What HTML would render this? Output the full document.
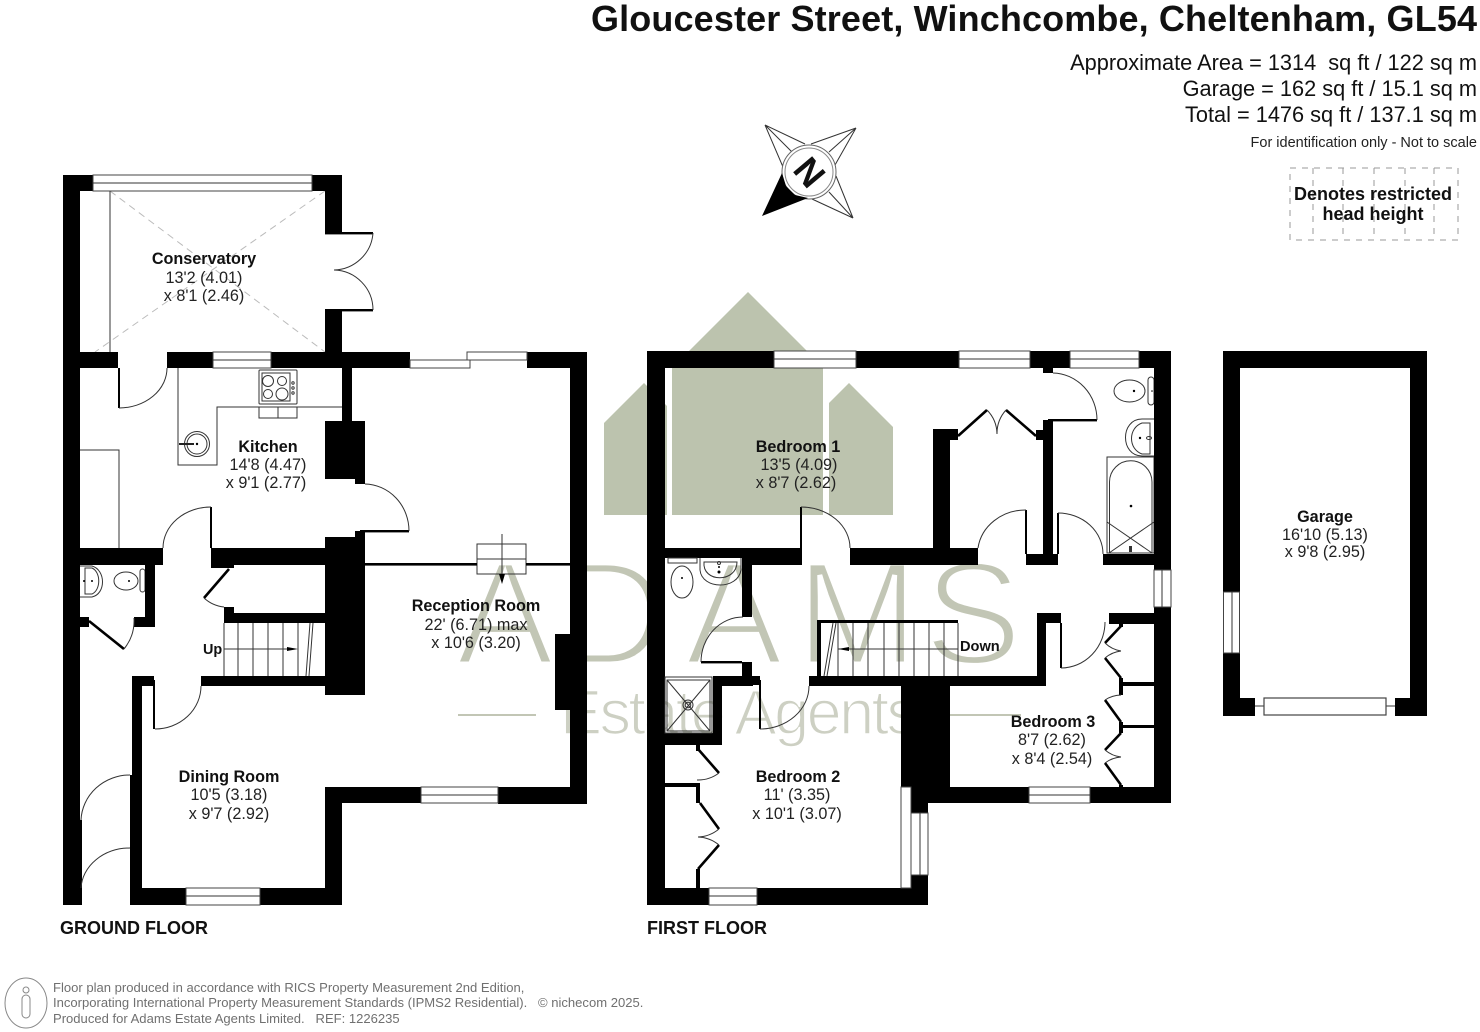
<!DOCTYPE html>
<html lang="en"><head><meta charset="utf-8"><title>Floor plan</title>
<style>
html,body{margin:0;padding:0;background:#fff;width:1480px;height:1032px;overflow:hidden}
svg{display:block;font-family:"Liberation Sans",sans-serif}
.n{font-weight:700;font-size:16.2px;text-anchor:middle;fill:#111}
.s{font-size:16.2px;text-anchor:middle;fill:#222}
.a{fill:none;stroke:#333;stroke-width:1}
.d{fill:none;stroke:#000;stroke-width:2.6}
.w{fill:#fff;stroke:#444;stroke-width:1}
.l{stroke:#333;stroke-width:1;fill:none}
.f{fill:none;stroke:#444;stroke-width:1}
.hd{font-size:21.75px;text-anchor:end;fill:#111}
.ft{font-size:13.05px;fill:#707070}
</style></head><body>
<svg width="1480" height="1032" viewBox="0 0 1480 1032" xmlns="http://www.w3.org/2000/svg">
<rect width="1480" height="1032" fill="#fff"/>

<!-- logo -->
<g fill="#bcc3ae">
<polygon points="748,292 823,367 823,515 672,515 672,368"/>
<polygon points="849,383 893,427 893,515 829,515 829,403"/>
<polygon points="644,383 667,406 667,515 604,515 604,423"/>
</g>
<text x="456 560 685 796 924" y="664" font-size="147" fill="#c2c6b5" stroke="#fff" stroke-width="5">ADAMS</text>
<text x="560" y="734" font-size="63" fill="#cdd0c3" stroke="#fff" stroke-width="1.6" textLength="358" lengthAdjust="spacing">Estate Agents</text>
<rect x="458" y="714" width="78" height="2" fill="#c2c6b5"/>
<rect x="945" y="714" width="76" height="2" fill="#c2c6b5"/>

<!-- titles -->
<text x="591" y="31" font-size="36" font-weight="700" fill="#111" textLength="886" lengthAdjust="spacing">Gloucester Street, Winchcombe, Cheltenham, GL54</text>
<text class="hd" x="1477" y="70">Approximate Area = 1314&#160; sq ft / 122 sq m</text>
<text class="hd" x="1477" y="96">Garage = 162 sq ft / 15.1 sq m</text>
<text class="hd" x="1477" y="122">Total = 1476 sq ft / 137.1 sq m</text>
<text x="1477" y="147" font-size="14.5" text-anchor="end" fill="#222">For identification only - Not to scale</text>

<!-- restricted head height -->
<g fill="none" stroke="#999" stroke-width="1" stroke-dasharray="6 6">
<rect x="1290" y="168" width="168" height="72"/>
<path d="M1313 168V240M1343 168V240M1374 168V240M1405 168V240M1434 168V240"/>
</g>
<text x="1373" y="200" font-size="18" font-weight="700" text-anchor="middle" fill="#111">Denotes restricted</text>
<text x="1373" y="220" font-size="18" font-weight="700" text-anchor="middle" fill="#111">head height</text>

<!-- compass -->
<g fill="none" stroke="#333" stroke-width="1">
<path d="M765,125 L783,167 M765,125 L805,144 M765,125 L792,152"/>
<path d="M856,128 L811,144 M856,128 L835,165 M856,128 L829,152"/>
<path d="M853,218 L836,176 M853,218 L812,199 M853,218 L829,192"/>
<circle cx="809" cy="172" r="27" fill="#fff" stroke="#666"/>
<circle cx="809" cy="172" r="24" stroke="#888"/>
</g>
<polygon points="762,216 782,173 786,186 795,195 808,198" fill="#000"/>
<text x="0" y="0" font-size="36" font-weight="700" text-anchor="middle" fill="#111" transform="translate(810,172) rotate(50) translate(0,13)">N</text>

<!-- fittings and dashed lines, ground floor -->
<path d="M110,191 L325,352 M325,191 L95,352" stroke="#bbb" stroke-width="1" stroke-dasharray="7 5" fill="none"/>
<path class="l" d="M110,191V352M178,368V465H217V407H342M80,450H119V548"/>
<rect class="l" x="259" y="370" width="38" height="34" rx="1" stroke-width="1.6"/>
<rect class="l" x="262" y="373" width="28" height="28"/>
<circle class="l" cx="268" cy="381" r="5.5"/><circle class="l" cx="282" cy="381" r="4.5"/>
<circle class="l" cx="268" cy="394" r="4.5"/><circle class="l" cx="282" cy="394" r="6"/>
<circle cx="293" cy="383" r="1.2" class="l"/><circle cx="293" cy="388" r="1.2" class="l"/><circle cx="293" cy="393" r="1.2" class="l"/>
<path class="l" d="M259,407V418H297V407M278,407V418"/>
<circle class="l" cx="197" cy="444" r="12.5"/><circle class="l" cx="197" cy="444" r="10"/>
<path d="M179,444H194" stroke="#222" stroke-width="2"/><circle cx="197" cy="444" r="1.2" fill="#000"/>
<!-- cloakroom -->
<path class="l" d="M80,566H92C106,570 106,594 92,597H80"/><path class="l" d="M85,568V594H92C101,590 101,572 92,568Z"/>
<ellipse class="l" cx="126" cy="581" rx="12" ry="9"/><rect class="l" x="140" y="569" width="5" height="23" rx="2.5"/>
<circle cx="84" cy="581" r="1" fill="#000"/><circle cx="92" cy="581" r="1" fill="#000"/><circle cx="129" cy="581" r="1" fill="#000"/>
<!-- stairs -->
<path class="l" d="M224,623V676M238,623V676M253,623V676M268,623V676M283,623V676M298,623V676M310,623L306,676M313,623L309,676M224,649H290"/>
<polygon points="287,647 298,649 287,651" fill="#000"/>
<!-- fireplace box -->
<rect class="l" x="477" y="544" width="49" height="30"/>
<path class="l" d="M477,559H526M502,534V582"/>
<polygon points="499,574 505,574 502,584" fill="#000"/>

<!-- ground walls -->
<g fill="#000">
<rect x="63" y="175" width="17" height="645"/><rect x="63" y="820" width="19" height="85"/>
<rect x="63" y="175" width="30" height="16"/><rect x="312" y="175" width="30" height="16"/>
<rect x="325" y="175" width="17" height="57"/><rect x="325" y="310" width="17" height="42"/>
<rect x="63" y="352" width="55" height="16"/><rect x="167" y="352" width="46" height="16"/>
<rect x="271" y="352" width="139" height="16"/><rect x="527" y="352" width="60" height="16"/>
<rect x="570" y="352" width="17" height="452"/>
<rect x="342" y="368" width="10" height="53"/><rect x="325" y="421" width="40" height="58"/><rect x="355" y="479" width="10" height="5"/>
<rect x="325" y="537" width="40" height="158"/><rect x="355" y="531" width="10" height="6"/>
<rect x="63" y="548" width="100" height="17"/><rect x="211" y="548" width="114" height="17"/>
<rect x="145" y="565" width="10" height="62"/><rect x="134" y="617" width="21" height="10"/><rect x="80" y="617" width="9" height="10"/>
<rect x="211" y="565" width="23" height="3"/>
<rect x="224" y="607" width="10" height="6"/><rect x="224" y="613" width="101" height="10"/>
<rect x="201" y="676" width="124" height="10"/><rect x="132" y="676" width="22" height="10"/><rect x="132" y="676" width="10" height="229"/>
<rect x="153" y="680" width="2" height="49"/><rect x="210" y="507" width="2" height="41"/><rect x="118" y="368" width="2" height="40"/>
<rect x="130" y="775" width="2.5" height="113"/>
<rect x="130" y="888" width="56" height="17"/><rect x="260" y="888" width="82" height="17"/>
<rect x="325" y="787" width="17" height="118"/><rect x="325" y="787" width="96" height="16"/><rect x="498" y="787" width="89" height="17"/>
<rect x="555" y="634" width="15" height="76"/>
<rect x="365" y="563" width="112" height="2.6"/><rect x="526" y="563" width="44" height="2.6"/>
<rect x="325" y="232" width="48" height="2.4"/><rect x="325" y="309" width="48" height="2.4"/>
<rect x="360" y="530" width="49" height="2.4"/>
</g>
<path class="d" d="M89,621L124,649M229,569L204,598"/>
<path class="a" d="M373,233A40,40 0 0 1 334,270M373,310A40,40 0 0 0 334,270M119,408A48,40 0 0 0 167,368M211,507A48,41 0 0 0 163,548M365,484A45,47 0 0 1 409,531M124,649A45,45 0 0 0 134,618M204,598A35,35 0 0 0 224,607M155,729A46,43 0 0 0 201,686M130,775A49,47 0 0 0 81,820M130,848A49,42 0 0 0 81,888"/>

<!-- ground windows -->
<g class="w">
<rect x="93" y="175" width="219" height="16"/><rect x="213" y="352" width="58" height="16"/>
<rect x="410" y="360" width="60" height="8"/><rect x="467" y="352" width="60" height="8"/>
<rect x="186" y="888" width="74" height="17"/><rect x="421" y="787" width="77" height="16"/>
</g>
<path class="l" d="M93,183H312M213,360H271M186,896H260M421,795H498"/>

<!-- first floor fittings -->
<path class="l" d="M838,623V676M853,623V676M868,623V676M884,623V676M899,623V676M914,623V676M929,623V676M944,623V676M958,623V676M833,623L824,676M836,623L827,676M838,649H958"/>
<polygon points="838,649 849,647 849,651" fill="#000"/>
<rect x="1107" y="457" width="47" height="96" fill="#fff" class="l"/>
<path class="l" d="M1109.5,553V482A20,20 0 0 1 1152,482V553Z"/>
<path class="l" d="M1107,522L1152,553M1154,522L1109,553"/>
<rect x="1129" y="546" width="3" height="6" fill="#333"/>
<circle cx="1131" cy="506" r="1.3" fill="#000"/>
<ellipse class="l" cx="1129.5" cy="391" rx="15.5" ry="11"/><rect class="l" x="1148" y="377" width="6" height="28" rx="3"/>
<circle cx="1134" cy="391" r="1.2" fill="#000"/><circle cx="1152" cy="391" r="0.8" fill="#000"/>
<path class="l" d="M1154,419H1142C1120,419 1120,456 1142,456H1154"/><path class="l" d="M1150,423H1142C1128,428 1128,449 1142,454H1150Z"/>
<circle cx="1140" cy="438" r="1.2" fill="#000"/><ellipse class="l" cx="1149" cy="438" rx="2.5" ry="1.5"/>

<!-- first floor walls -->
<g fill="#000">
<rect x="647" y="351" width="18" height="554"/>
<rect x="647" y="351" width="127" height="17"/><rect x="856" y="351" width="103" height="17"/><rect x="1030" y="351" width="40" height="17"/><rect x="1139" y="351" width="32" height="17"/>
<rect x="1154" y="351" width="17" height="219"/><rect x="1154" y="607" width="17" height="196"/>
<rect x="1043" y="368" width="10" height="5"/><rect x="1048" y="419" width="49" height="2.4"/>
<rect x="1043" y="420" width="10" height="135"/>
<rect x="933" y="429" width="17" height="136"/><rect x="950" y="429" width="8" height="11"/><rect x="1036" y="430" width="8" height="10"/>
<rect x="665" y="548" width="87" height="10"/><rect x="752" y="548" width="50" height="17"/><rect x="850" y="548" width="128" height="17"/>
<rect x="1026" y="554" width="32" height="11"/><rect x="1103" y="554" width="68" height="11"/>
<rect x="800" y="507" width="2" height="41"/><rect x="1025" y="510" width="2" height="44"/><rect x="1057" y="513" width="2" height="41"/>
<rect x="742" y="558" width="10" height="59"/>
<rect x="701" y="661" width="41" height="2.4"/><rect x="742" y="662" width="10" height="14"/><rect x="752" y="676" width="8" height="9"/>
<rect x="713" y="676" width="40" height="10"/><rect x="713" y="676" width="9" height="69"/><rect x="665" y="733" width="57" height="12"/>
<rect x="759" y="680" width="2" height="49"/>
<rect x="809" y="676" width="228" height="10"/>
<rect x="817" y="620" width="141" height="3"/><rect x="817" y="620" width="4" height="56"/>
<rect x="1037" y="613" width="9" height="73"/><rect x="1037" y="613" width="24" height="10"/><rect x="1060" y="623" width="2" height="45"/>
<rect x="1109" y="613" width="45" height="11"/>
<rect x="901" y="686" width="49" height="101"/><rect x="911" y="787" width="17" height="26"/><rect x="911" y="875" width="17" height="30"/>
<rect x="928" y="787" width="101" height="16"/><rect x="1090" y="787" width="81" height="16"/>
<rect x="665" y="888" width="44" height="17"/><rect x="757" y="888" width="171" height="17"/>
<rect x="665" y="783" width="35" height="4"/><rect x="696" y="745" width="4" height="6"/><rect x="696" y="783" width="4" height="20"/><rect x="696" y="869" width="4" height="19"/>
<rect x="1121" y="682" width="33" height="4"/><rect x="1119" y="678" width="4" height="17"/><rect x="1121" y="725" width="33" height="3"/><rect x="1119" y="722" width="4" height="11"/>
<rect x="1119" y="624" width="4" height="3"/><rect x="1119" y="785" width="4" height="3"/>
</g>
<path class="d" d="M958,436L987,410M1006,410L1036,436M698,749L719,773M700,803L719,829M719,845L698,869M1121,626L1105,643M1105,658L1121,678M1105,700L1121,722M1121,733L1105,750M1105,763L1121,785"/>
<path class="a" d="M1053,373A45,47 0 0 1 1097,420M987,410A35,35 0 0 1 997,434M1006,410A35,35 0 0 0 997,434M801,507A49,41 0 0 1 850,548M1026,510A48,44 0 0 0 978,548M1058,513A45,41 0 0 1 1103,554M743,617A42,45 0 0 0 701,662M760,729A49,43 0 0 0 809,686M1061,668A44,46 0 0 0 1105,622M719,773A35,35 0 0 1 697,780M719,829A35,35 0 0 1 698,837M719,845A35,35 0 0 0 698,837M1105,643A30,30 0 0 0 1121,651M1105,658A30,30 0 0 1 1121,651M1105,700A30,30 0 0 1 1121,695M1105,750A30,30 0 0 0 1121,757M1105,763A30,30 0 0 1 1121,757"/>
<g class="w">
<rect x="774" y="351" width="82" height="17"/><rect x="959" y="351" width="71" height="17"/><rect x="1070" y="351" width="69" height="17"/>
<rect x="1154" y="570" width="17" height="37"/><rect x="911" y="813" width="17" height="62"/><rect x="901" y="787" width="10" height="101"/>
<rect x="709" y="888" width="48" height="17"/><rect x="1029" y="787" width="61" height="16"/>
</g>
<path class="l" d="M774,359H856M959,359H1030M1070,359H1139M1162,570V607M920,813V875M709,896H757M1029,795H1090"/>

<!-- ensuite fittings -->
<path class="l" d="M668,558H697V563H668Z"/><ellipse class="l" cx="682" cy="582" rx="11" ry="16"/><circle cx="682" cy="578" r="1" fill="#000"/>
<path class="l" d="M700,558V570C702,590 738,590 741,570V558"/><path class="l" d="M704,562C702,583 737,583 737,562Z"/>
<circle cx="719" cy="563" r="1.5" class="l"/><circle cx="719" cy="572" r="1.5" fill="#000"/><circle cx="719" cy="567" r="1" fill="#000"/>
<rect x="665" y="677" width="47" height="56" fill="none" stroke="#333" stroke-width="1"/><rect class="l" x="667" y="680" width="43" height="51"/>
<path class="l" d="M667,680L710,731M710,680L667,731"/>
<circle class="l" cx="688" cy="705" r="5"/><circle class="l" cx="688" cy="705" r="2.8"/>

<!-- garage -->
<g fill="#000">
<rect x="1223" y="351" width="204" height="17"/><rect x="1223" y="351" width="17" height="241"/><rect x="1223" y="653" width="17" height="63"/>
<rect x="1410" y="351" width="17" height="365"/><rect x="1223" y="698" width="32" height="18"/><rect x="1395" y="698" width="32" height="18"/>
</g>
<rect class="w" x="1223.5" y="592" width="16" height="61"/><path class="l" d="M1232,592V653M1255,706H1264M1386,706H1395"/>
<rect x="1264" y="698" width="122" height="17" fill="#fff" stroke="#444" stroke-width="1.2"/>

<!-- room labels -->
<text class="n" x="204" y="264">Conservatory</text><text class="s" x="204" y="283">13'2 (4.01)</text><text class="s" x="204" y="301">x 8'1 (2.46)</text>
<text class="n" x="268" y="452">Kitchen</text><text class="s" x="268" y="470">14'8 (4.47)</text><text class="s" x="266" y="488">x 9'1 (2.77)</text>
<text class="n" x="476" y="611">Reception Room</text><text class="s" x="476" y="630">22' (6.71) max</text><text class="s" x="476" y="648">x 10'6 (3.20)</text>
<text class="n" x="229" y="782">Dining Room</text><text class="s" x="229" y="800">10'5 (3.18)</text><text class="s" x="229" y="819">x 9'7 (2.92)</text>
<text class="n" x="798" y="452">Bedroom 1</text><text class="s" x="799" y="470">13'5 (4.09)</text><text class="s" x="796" y="488">x 8'7 (2.62)</text>
<text class="n" x="798" y="782">Bedroom 2</text><text class="s" x="797" y="800">11' (3.35)</text><text class="s" x="797" y="819">x 10'1 (3.07)</text>
<text class="n" x="1053" y="727">Bedroom 3</text><text class="s" x="1052" y="745">8'7 (2.62)</text><text class="s" x="1052" y="764">x 8'4 (2.54)</text>
<text class="n" x="1325" y="522">Garage</text><text class="s" x="1325" y="540">16'10 (5.13)</text><text class="s" x="1325" y="557">x 9'8 (2.95)</text>
<text x="203" y="654" font-size="14.4" font-weight="700" fill="#111">Up</text>
<text x="960" y="651" font-size="14.6" font-weight="700" fill="#111">Down</text>
<text x="60" y="934" font-size="18" font-weight="700" fill="#111">GROUND FLOOR</text>
<text x="647" y="934" font-size="18" font-weight="700" fill="#111">FIRST FLOOR</text>

<!-- footer -->
<ellipse cx="26" cy="1003" rx="21" ry="25" fill="none" stroke="#888" stroke-width="1"/>
<circle cx="26" cy="990" r="3" fill="none" stroke="#888"/><rect x="22" y="995" width="8" height="23" rx="4" fill="none" stroke="#888"/>
<text class="ft" x="53" y="992">Floor plan produced in accordance with RICS Property Measurement 2nd Edition,</text>
<text class="ft" x="53" y="1007">Incorporating International Property Measurement Standards (IPMS2 Residential).</text>
<text class="ft" x="53" y="1023">Produced for Adams Estate Agents Limited.&#160;&#160; REF: 1226235</text>
<text class="ft" x="538" y="1007">© nichecom 2025.</text>
</svg>
</body></html>
